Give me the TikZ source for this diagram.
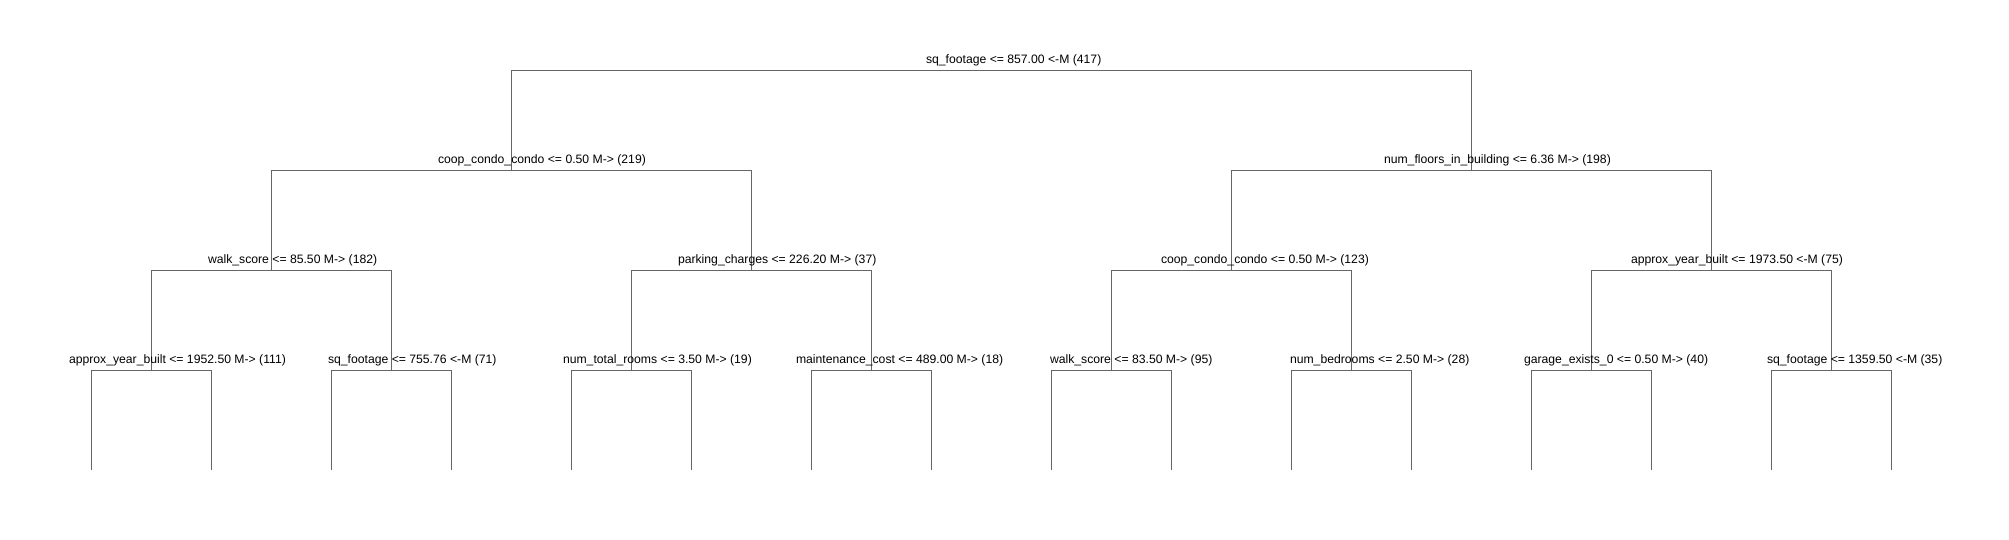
\documentclass[tikz,border=0pt]{standalone}
\usepackage{fontspec}
\setmainfont{Liberation Sans}
\begin{document}
\begin{tikzpicture}[x=1pt,y=-1pt,
  edge/.style={draw=black!60,line width=1pt},
  lbl/.style={anchor=base west,inner sep=0pt,outer sep=0pt,font=\fontsize{12.2}{14}\selectfont,text=black}]
\useasboundingbox[fill=white] (0,0) rectangle (2009,540);
% levels
\def\ya{70.5}\def\yb{170.5}\def\yc{270.5}\def\yd{370.5}\def\ye{470}
\def\dy{7}
% internal nodes
\coordinate (r) at (991.5,\ya);
\coordinate (a) at (511.5,\yb);
\coordinate (b) at (1471.5,\yb);
\coordinate (aa) at (271.5,\yc);
\coordinate (ab) at (751.5,\yc);
\coordinate (ba) at (1231.5,\yc);
\coordinate (bb) at (1711.5,\yc);
\foreach \n/\x in {aaa/151.5,aab/391.5,aba/631.5,abb/871.5,baa/1111.5,bab/1351.5,bba/1591.5,bbb/1831.5}
  \coordinate (\n) at (\x,\yd);
% leaves
\foreach \p/\x in {aaa/151.5,aab/391.5,aba/631.5,abb/871.5,baa/1111.5,bab/1351.5,bba/1591.5,bbb/1831.5}{
  \coordinate (\p-l) at (\x-60,\ye);
  \coordinate (\p-r) at (\x+60,\ye);
}
% connectors
\foreach \p/\c in {r/a,r/b,a/aa,a/ab,b/ba,b/bb,aa/aaa,aa/aab,ab/aba,ab/abb,ba/baa,ba/bab,bb/bba,bb/bbb}
  \draw[edge] (\p) -| (\c);
\foreach \p in {aaa,aab,aba,abb,baa,bab,bba,bbb}{
  \draw[edge] (\p) -| (\p-l);
  \draw[edge] (\p) -| (\p-r);
}
% labels
\node[lbl] (tr) at (926,\ya-\dy) {sq\_footage <= 857.00 <-M (417)};
\node[lbl] (ta) at (438,\yb-\dy) {coop\_condo\_condo <= 0.50 M-> (219)};
\node[lbl] (tb) at (1384,\yb-\dy) {num\_floors\_in\_building <= 6.36 M-> (198)};
\node[lbl] (taa) at (208,\yc-\dy) {walk\_score <= 85.50 M-> (182)};
\node[lbl] (tab) at (678,\yc-\dy) {parking\_charges <= 226.20 M-> (37)};
\node[lbl] (tba) at (1161,\yc-\dy) {coop\_condo\_condo <= 0.50 M-> (123)};
\node[lbl] (tbb) at (1631,\yc-\dy) {approx\_year\_built <= 1973.50 <-M (75)};
\node[lbl] (taaa) at (69,\yd-\dy) {approx\_year\_built <= 1952.50 M-> (111)};
\node[lbl] (taab) at (328,\yd-\dy) {sq\_footage <= 755.76 <-M (71)};
\node[lbl] (taba) at (563,\yd-\dy) {num\_total\_rooms <= 3.50 M-> (19)};
\node[lbl] (tabb) at (796,\yd-\dy) {maintenance\_cost <= 489.00 M-> (18)};
\node[lbl] (tbaa) at (1050,\yd-\dy) {walk\_score <= 83.50 M-> (95)};
\node[lbl] (tbab) at (1290,\yd-\dy) {num\_bedrooms <= 2.50 M-> (28)};
\node[lbl] (tbba) at (1524,\yd-\dy) {garage\_exists\_0 <= 0.50 M-> (40)};
\node[lbl] (tbbb) at (1767,\yd-\dy) {sq\_footage <= 1359.50 <-M (35)};
\end{tikzpicture}
\end{document}
